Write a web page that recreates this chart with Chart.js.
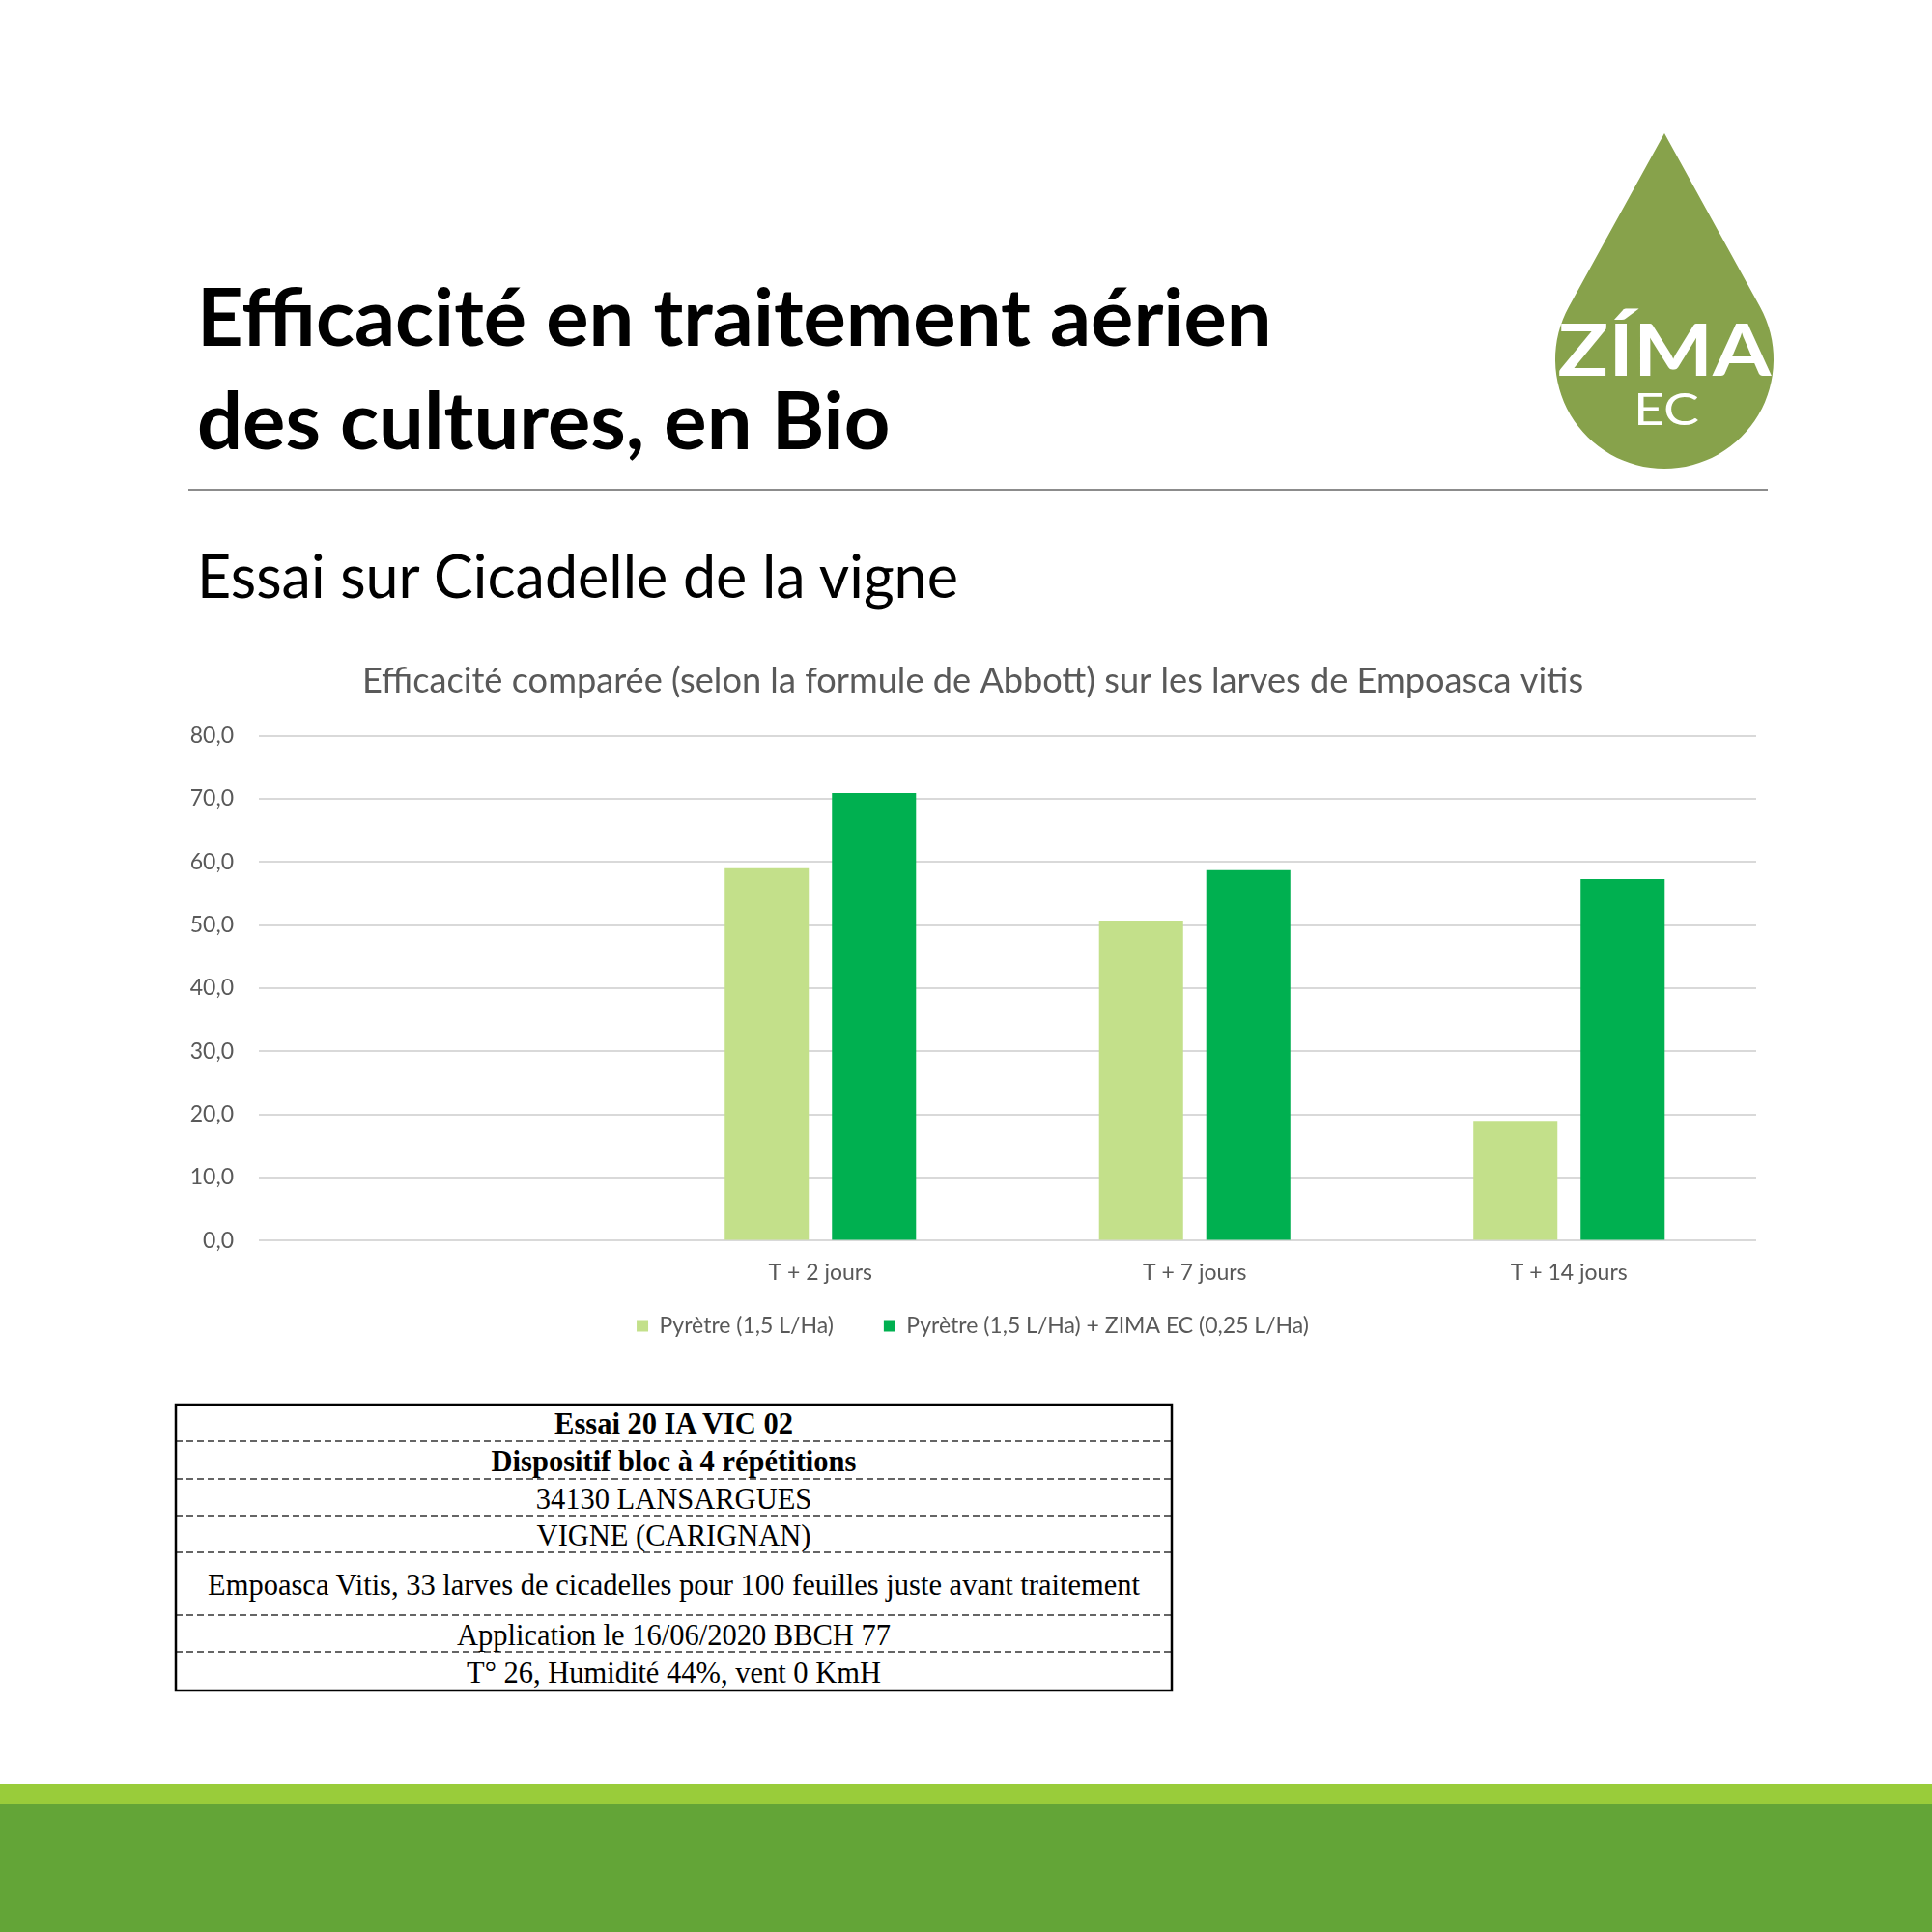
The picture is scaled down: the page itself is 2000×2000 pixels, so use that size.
<!DOCTYPE html>
<html>
<head>
<meta charset="utf-8">
<script src="https://cdn.jsdelivr.net/npm/chart.js@4.4.1/dist/chart.umd.min.js"></script>
<style>
  html, body { margin: 0; padding: 0; background: #ffffff; }
  #page { position: relative; width: 2000px; height: 2000px; overflow: hidden; background: #fff; }
  #deco { position: absolute; left: 0; top: 0; }
  #chartBox { position: absolute; left: 196px; top: 676px; width: 1661px; height: 718px; }
  #info { position: absolute; left: 181px; top: 1455px; width: 1033px; border-collapse: collapse; border: none;
          font-family: 'Liberation Serif', 'Times New Roman', serif; font-size: 30.5px; color: #000; }
  #info td { text-align: center; padding: 0; line-height: 1; border: none; }
  #info .b { font-weight: bold; }
</style>
</head>
<body>
<div id="page">
  <svg id="deco" width="2000" height="2000" xmlns="http://www.w3.org/2000/svg">
    <text x="204" y="358" font-family="Lato" font-weight="bold" font-size="83" fill="#000">Efficacité en traitement aérien</text>
    <text x="204" y="465" font-family="Lato" font-weight="bold" font-size="83" fill="#000">des cultures, en Bio</text>
    <line x1="195" y1="507" x2="1830" y2="507" stroke="#8c8c8c" stroke-width="2"/>
    <text x="204" y="619" font-family="Lato" font-size="61" fill="#000">Essai sur Cicadelle de la vigne</text>
    <path d="M1723,138 L1821.9,317.4 A113,113 0 1,1 1624.1,317.4 Z" fill="#87A24B"/>
    <text x="1723" y="389" text-anchor="middle" font-family="Lato" font-weight="bold" font-size="75" fill="#fff" textLength="221" lengthAdjust="spacingAndGlyphs">ZÍMA</text>
    <text x="1725" y="440" text-anchor="middle" font-family="Lato" font-size="47" fill="#fff" textLength="68" lengthAdjust="spacingAndGlyphs">EC</text>
    <g stroke="#333" stroke-width="1.5" stroke-dasharray="7 4">
      <line x1="182" y1="1492" x2="1213" y2="1492"/>
      <line x1="182" y1="1531" x2="1213" y2="1531"/>
      <line x1="182" y1="1569" x2="1213" y2="1569"/>
      <line x1="182" y1="1607" x2="1213" y2="1607"/>
      <line x1="182" y1="1672" x2="1213" y2="1672"/>
      <line x1="182" y1="1710" x2="1213" y2="1710"/>
    </g>
    <rect x="182" y="1454" width="1031" height="296" fill="none" stroke="#000" stroke-width="2.5"/>
    <rect x="0" y="1847" width="2000" height="20" fill="#99CC3A"/>
    <rect x="0" y="1867" width="2000" height="133" fill="#63A537"/>
  </svg>
  <div id="chartBox"><canvas id="c"></canvas></div>
  <table id="info">
    <tr style="height:39px"><td class="b">Essai 20 IA VIC 02</td></tr>
    <tr style="height:39px"><td class="b">Dispositif bloc à 4 répétitions</td></tr>
    <tr style="height:38px"><td>34130 LANSARGUES</td></tr>
    <tr style="height:38px"><td>VIGNE (CARIGNAN)</td></tr>
    <tr style="height:65px"><td>Empoasca Vitis, 33 larves de cicadelles pour 100 feuilles juste avant traitement</td></tr>
    <tr style="height:38px"><td>Application le 16/06/2020 BBCH 77</td></tr>
    <tr style="height:40px"><td>T° 26, Humidité 44%, vent 0 KmH</td></tr>
  </table>
</div>
<script>
// ---- data ----
const categories = ['', 'T + 2 jours', 'T + 7 jours', 'T + 14 jours'];
const seriesNames = ['Pyrètre (1,5 L/Ha)', 'Pyrètre (1,5 L/Ha) + ZIMA EC (0,25 L/Ha)'];
const pyrethreValues = [null, 59.0, 50.7, 19.0];
const pyrethreZimaValues = [null, 70.9, 58.7, 57.3];
const yTickLabels = ['0,0', '10,0', '20,0', '30,0', '40,0', '50,0', '60,0', '70,0', '80,0'];
const chartTitle = 'Efficacité comparée (selon la formule de Abbott) sur les larves de Empoasca vitis';

const textColor = '#595959';
const gridColor = '#D9D9D9';
const smallFont = { family: 'Lato', size: 23 };

new Chart(document.getElementById('c'), {
  type: 'bar',
  data: {
    labels: categories,
    datasets: [
      { label: seriesNames[0], data: pyrethreValues, backgroundColor: '#C3E08A', borderWidth: 0,
        categoryPercentage: 0.573, barPercentage: 0.784 },
      { label: seriesNames[1], data: pyrethreZimaValues, backgroundColor: '#00B050', borderWidth: 0,
        categoryPercentage: 0.573, barPercentage: 0.784 }
    ]
  },
  options: {
    responsive: true,
    maintainAspectRatio: false,
    animation: false,
    devicePixelRatio: 1,
    layout: { padding: { left: 0, right: 39, top: 0, bottom: 0 } },
    plugins: {
      tooltip: { enabled: false },
      title: {
        display: true, text: chartTitle, color: textColor,
        font: { family: 'Lato', size: 36.2, weight: 'normal', lineHeight: 1.2 },
        padding: { top: 7.4, bottom: 34.7 }
      },
      legend: {
        position: 'bottom',
        labels: { color: textColor, font: smallFont, boxWidth: 12, boxHeight: 12, padding: 52 }
      }
    },
    scales: {
      x: {
        grid: { display: false },
        border: { display: false },
        // mirror only disables label clipping on a horizontal axis; a negative padding places labels below the axis
        ticks: { color: textColor, font: smallFont, mirror: true, padding: -47.4, maxRotation: 0, autoSkip: false },
        afterFit: (s) => { s.height = 24.6; }
      },
      y: {
        min: 0, max: 80,
        grid: { color: gridColor, lineWidth: 2, drawTicks: false },
        border: { display: false },
        ticks: { stepSize: 10, color: textColor, font: smallFont, padding: 26,
                 callback: (v, i) => yTickLabels[i] },
        afterFit: (s) => { s.width = 72; }
      }
    }
  }
});
</script>
</body>
</html>
